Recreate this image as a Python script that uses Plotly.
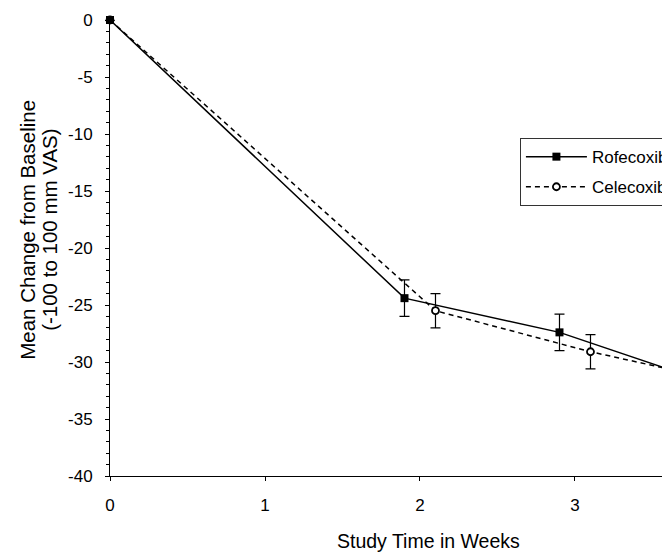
import plotly.graph_objects as go

rofe_weeks = [0, 1.9, 2.9, 3.9]
rofe_change = [0, -24.4, -27.4, -32.0]
rofe_err = [None, 1.6, 1.6, 1.6]

cele_weeks = [0, 2.1, 3.1, 4.1]
cele_change = [0, -25.5, -29.1, -32.1]
cele_err = [None, 1.5, 1.5, 1.5]

x_ticks = [0, 1, 2, 3]
y_ticks = [0, -5, -10, -15, -20, -25, -30, -35, -40]

FONT = "Liberation Sans, Arial, sans-serif"

fig = go.Figure()
fig.add_trace(go.Scatter(
    x=cele_weeks, y=cele_change, name="Celecoxib", mode="lines+markers",
    legendgroup="c", legendrank=2,
    line=dict(color="black", width=1.5, dash="5px,4px"),
    marker=dict(symbol="circle", size=7, color="white", line=dict(color="black", width=1.8)),
    error_y=dict(type="data", array=cele_err, visible=True, color="black", thickness=1.2, width=5),
    cliponaxis=False,
))
fig.add_trace(go.Scatter(
    x=rofe_weeks, y=rofe_change, name="Rofecoxib", mode="lines+markers",
    legendgroup="r", legendrank=1,
    line=dict(color="black", width=1.5),
    marker=dict(symbol="square", size=8, color="black"),
    error_y=dict(type="data", array=rofe_err, visible=True, color="black", thickness=1.2, width=5),
    cliponaxis=False,
))

# page body has an 8px margin, so the figure is sized to fit the 670x553 window
fig.update_layout(
    width=662, height=545,
    margin=dict(l=102, r=0, t=12, b=77, autoexpand=False),
    paper_bgcolor="white", plot_bgcolor="white",
    font=dict(family=FONT, size=17, color="black"),
    showlegend=True,
    legend=dict(
        x=0.732, y=0.741, xanchor="left", yanchor="top",
        bordercolor="#333", borderwidth=1, bgcolor="white",
        traceorder="grouped", tracegroupgap=5, itemwidth=61,
        font=dict(size=17),
    ),
    xaxis=dict(
        range=[0, 3.613], tickvals=x_ticks, ticktext=[str(v) for v in x_ticks],
        showgrid=False, zeroline=False, showline=True, linecolor="black", linewidth=1,
        ticks="outside", ticklen=4, tickcolor="black", ticklabelstandoff=10,
        automargin=False,
    ),
    yaxis=dict(
        range=[-40, 0], tickvals=y_ticks, ticktext=[str(v) for v in y_ticks],
        showgrid=False, zeroline=False, showline=True, linecolor="black", linewidth=1,
        ticks="outside", ticklen=4, tickcolor="black", ticklabelstandoff=9,
        automargin=False,
        minor=dict(dtick=1, ticks="outside", ticklen=3, tickcolor="black", showgrid=False),
    ),
    annotations=[
        dict(
            text="Mean Change from Baseline",
            xref="paper", yref="paper", x=-0.1464, y=0.54,
            xanchor="center", yanchor="middle", textangle=-90,
            showarrow=False, font=dict(size=20.5),
        ),
        dict(
            text="(-100 to 100 mm VAS)",
            xref="paper", yref="paper", x=-0.107, y=0.54,
            xanchor="center", yanchor="middle", textangle=-90,
            showarrow=False, font=dict(size=20.5),
        ),
        dict(
            text="Study Time in Weeks",
            xref="paper", yref="paper", x=0.5696, y=-0.1425,
            xanchor="center", yanchor="middle",
            showarrow=False, font=dict(size=19.5),
        ),
    ],
)

fig.write_html("out.html")
